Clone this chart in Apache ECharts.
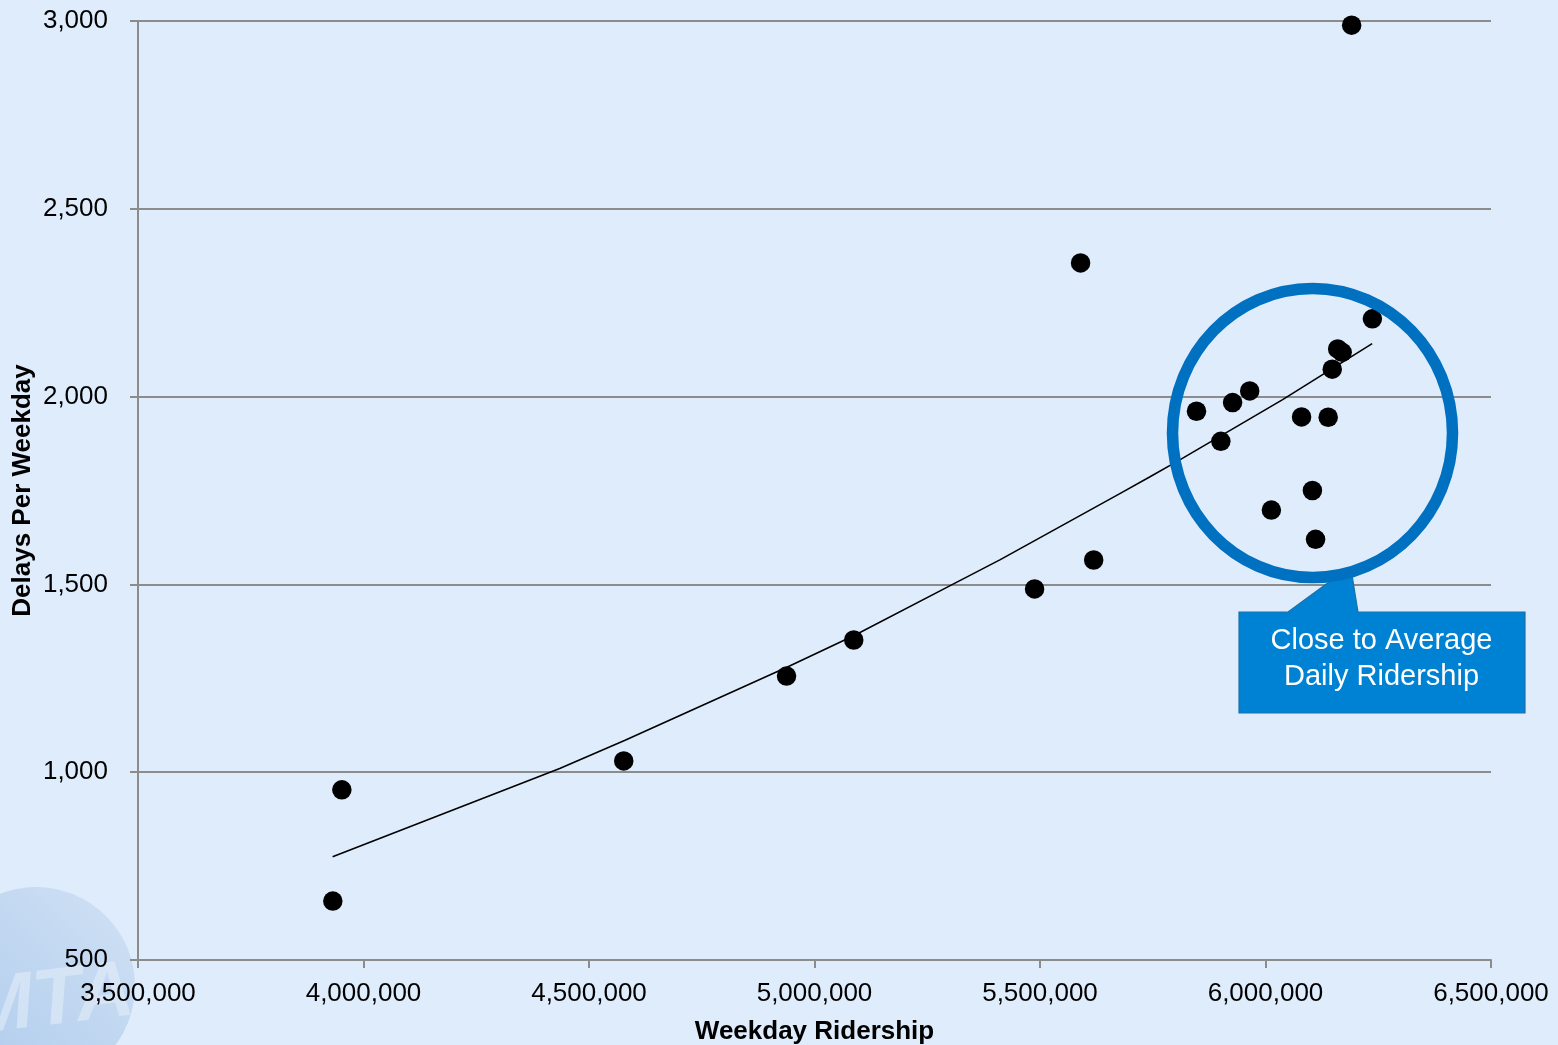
<!DOCTYPE html>
<html>
<head>
<meta charset="utf-8">
<script src="https://cdn.jsdelivr.net/npm/echarts@6/dist/echarts.min.js"></script>
<style>
html,body{margin:0;padding:0;background:#DFECFC;}
#chart{width:1558px;height:1045px;}
</style>
</head>
<body>
<div id="chart"></div>
<script>
// Scatter data: weekday ridership vs delays per weekday
var ridership = [3932000, 3952000, 4577000, 4938000, 5087000, 5488000, 5590000, 5619000,
                 5847000, 5901000, 5927000, 5965000, 6013000, 6080000, 6104000, 6111000,
                 6139000, 6148000, 6160000, 6170000, 6191000, 6237000];
var delays = [657, 953, 1030, 1256, 1352, 1488, 2356, 1565,
              1961, 1881, 1984, 2015, 1698, 1946, 1750, 1620,
              1945, 2073, 2127, 2118, 2989, 2207];

// Trendline points
var trendX = [3931500, 4435000, 4580000, 4940000, 5088000, 5303000, 5412000, 5676000, 5743000, 5809000, 6038000, 6236500];
var trendY = [775, 1010, 1085, 1280, 1364, 1498, 1566, 1741, 1786, 1831, 1992, 2141];

// Axis ticks
var xTicks = [3500000, 4000000, 4500000, 5000000, 5500000, 6000000, 6500000];
var yTicks = [500, 1000, 1500, 2000, 2500, 3000];

var xTitle = 'Weekday Ridership';
var yTitle = 'Delays Per Weekday';
var calloutText = 'Close to Average\nDaily Ridership';

var FONT = 'Liberation Sans, Arial, sans-serif';
function fmt(v){ return String(v).replace(/\B(?=(\d{3})+(?!\d))/g, ','); }

var scatterData = ridership.map(function(x, i){ return [x, delays[i]]; });
var trendData = trendX.map(function(x, i){ return [x, trendY[i]]; });

var chart = echarts.init(document.getElementById('chart'), null, {renderer: 'canvas'});
var axisGray = '#8C8C8C';

chart.setOption({
  backgroundColor: '#DFECFC',
  animation: false,
  grid: {left: 138, right: 67, top: 21, bottom: 85, containLabel: false, outerBoundsMode: 'none'},
  xAxis: {
    type: 'value',
    min: xTicks[0], max: xTicks[xTicks.length - 1], interval: xTicks[1] - xTicks[0],
    name: xTitle, nameLocation: 'middle', nameGap: 59, nameMoveOverlap: false,
    nameTextStyle: {fontFamily: FONT, fontSize: 26, fontWeight: 'bold', color: '#000'},
    axisLine: {show: true, lineStyle: {color: axisGray, width: 2}},
    axisTick: {show: true, length: 8, inside: false, lineStyle: {color: axisGray, width: 2}},
    axisLabel: {show: true, margin: 21, fontFamily: FONT, fontSize: 26, color: '#000',
      formatter: function(v){ return fmt(v); }},
    splitLine: {show: false}
  },
  yAxis: {
    type: 'value',
    min: yTicks[0], max: yTicks[yTicks.length - 1], interval: yTicks[1] - yTicks[0],
    name: yTitle, nameLocation: 'middle', nameGap: 102, nameMoveOverlap: false,
    nameTextStyle: {fontFamily: FONT, fontSize: 26, fontWeight: 'bold', color: '#000'},
    axisLine: {show: true, lineStyle: {color: axisGray, width: 2}},
    axisTick: {show: true, length: 8, inside: false, lineStyle: {color: axisGray, width: 2}},
    axisLabel: {show: true, margin: 30, fontFamily: FONT, fontSize: 26, color: '#000',
      formatter: function(v){ return fmt(v); }},
    splitLine: {show: true, lineStyle: {color: axisGray, width: 2}}
  },
  series: [
    {
      type: 'line',
      data: trendData,
      smooth: false,
      showSymbol: false,
      symbol: 'none',
      lineStyle: {color: '#000', width: 1.6},
      z: 3
    },
    {
      type: 'scatter',
      data: scatterData,
      symbol: 'circle',
      symbolSize: 19.5,
      itemStyle: {color: '#000', opacity: 1},
      z: 4
    }
  ],
  graphic: [
    // faint logo watermark (bottom-left)
    {
      type: 'group', z: 0, silent: true,
      children: [
        {type: 'circle', shape: {cx: 36, cy: 986, r: 99},
         style: {fill: new echarts.graphic.LinearGradient(0, 1, 1, 0, [
           {offset: 0, color: '#A6C6EA'}, {offset: 1, color: '#CFE0F4'}]), opacity: 0.9}},
        {type: 'text', x: -28, y: 1052, rotation: 0.12,
         style: {text: 'MTA', font: 'italic bold 80px ' + FONT, fill: '#E3EDF9',
                 opacity: 0.6, textAlign: 'left', textVerticalAlign: 'bottom'}}
      ]
    },
    // callout box with pointer
    {
      type: 'polygon', z: 99, silent: true,
      shape: {points: [[1239, 612], [1288, 612], [1333, 579], [1352, 575], [1358, 612],
                       [1525, 612], [1525, 713], [1239, 713]]},
      style: {fill: '#0082D4', stroke: '#1B70A8', lineWidth: 1.2}
    },
    {
      type: 'text', z: 101, silent: true,
      x: 1381.5, y: 659,
      style: {text: calloutText, font: '29px ' + FONT, fill: '#FFFFFF', lineHeight: 36,
              textAlign: 'center', textVerticalAlign: 'middle'}
    },
    // highlight ring
    {
      type: 'ellipse', z: 100, silent: true,
      shape: {cx: 1312.5, cy: 433, rx: 140, ry: 144.5},
      style: {fill: 'none', stroke: '#0070C0', lineWidth: 11.5}
    }
  ]
});
</script>
</body>
</html>
